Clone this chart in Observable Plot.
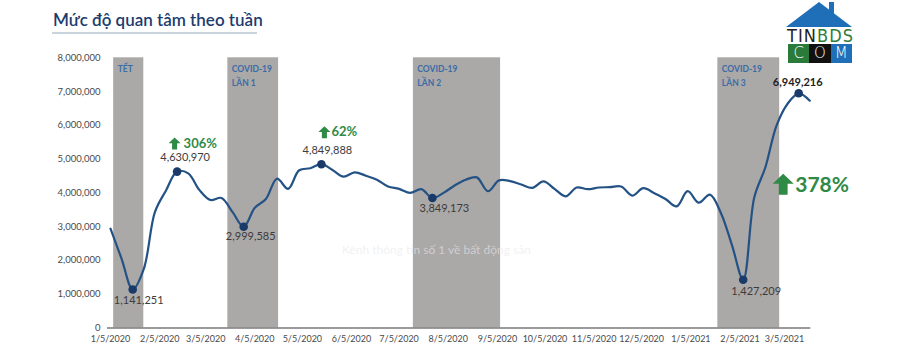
<!DOCTYPE html>
<html><head><meta charset="utf-8">
<script src="https://cdn.jsdelivr.net/npm/d3@7"></script>
<script src="https://cdn.jsdelivr.net/npm/@observablehq/plot@0.6"></script>
<style>
body{margin:0;background:#fff;}
#wrap{position:relative;width:899px;height:362px;overflow:hidden;font-family:Lato,"Open Sans",sans-serif;}
#chart{position:absolute;left:0;top:0;}
#title{position:absolute;left:53px;top:9px;font-size:17px;line-height:22px;color:#1d3c6e;font-weight:600;white-space:nowrap;}
#uline{position:absolute;left:52px;top:32px;width:205px;height:2px;background:#c9d4df;}
#logo{position:absolute;left:786px;top:0;width:67px;height:64px;}
#logo .roof{position:absolute;left:0;top:2px;width:0;height:0;border-left:33px solid transparent;border-right:33px solid transparent;border-bottom:25px solid #1f6fb8;}
#logo .chim{position:absolute;left:43px;top:2px;width:5px;height:12px;background:#1f6fb8;}
#logo .tin{position:absolute;left:1px;top:26px;width:66px;font-family:"Liberation Sans Narrow","DejaVu Sans Condensed",sans-serif;font-size:18px;line-height:19px;display:flex;justify-content:space-between;}
#logo .com{position:absolute;left:2px;top:44px;width:64px;height:19px;display:flex;}
#logo .com span{flex:1;color:#fff;text-align:center;font-family:"DejaVu Sans",sans-serif;font-weight:300;font-size:15px;line-height:19px;}
.wm{position:absolute;color:rgba(232,232,232,0.6);white-space:nowrap;pointer-events:none;}
</style></head>
<body>
<div id="wrap">
  <div id="chart"></div>
  <div class="wm" style="left:342px;top:242px;font-size:12px;">Kênh thông tin số 1 về bất động sản</div>
  <div id="title">Mức độ quan tâm theo tuần</div>
  <div id="uline"></div>
  <div id="logo">
    <div class="roof"></div><div class="chim"></div>
    <div class="com"><span style="background:#2a7a3a">C</span><span style="background:#111">O</span><span style="background:#1f6fb8">M</span></div>
    <div class="tin"><span style="color:#222">T</span><span style="color:#222">I</span><span style="color:#222">N</span><span style="color:#2f7d3a">B</span><span style="color:#2f7d3a">D</span><span style="color:#2f7d3a">S</span></div>
  </div>
</div>
<script>
// ---- data ----
const weeks = [
"2020-01-05","2020-01-12","2020-01-19","2020-01-26","2020-02-02","2020-02-09","2020-02-16","2020-02-23",
"2020-03-01","2020-03-08","2020-03-15","2020-03-22","2020-03-29","2020-04-05","2020-04-12","2020-04-19",
"2020-04-26","2020-05-03","2020-05-10","2020-05-17","2020-05-24","2020-05-31","2020-06-07","2020-06-14",
"2020-06-21","2020-06-28","2020-07-05","2020-07-12","2020-07-19","2020-07-26","2020-08-02","2020-08-09",
"2020-08-16","2020-08-23","2020-08-30","2020-09-06","2020-09-13","2020-09-20","2020-09-27","2020-10-04",
"2020-10-11","2020-10-18","2020-10-25","2020-11-01","2020-11-08","2020-11-15","2020-11-22","2020-11-29",
"2020-12-06","2020-12-13","2020-12-20","2020-12-27","2021-01-03","2021-01-10","2021-01-17","2021-01-24",
"2021-01-31","2021-02-07","2021-02-14","2021-02-21","2021-02-28","2021-03-07","2021-03-14","2021-03-21"];
const interest = [
2940000,2050000,1141251,1750000,3430000,4070000,4630970,4580000,
4090000,3790000,3850000,3430000,2999585,3560000,3820000,4420000,
4120000,4670000,4730000,4849888,4680000,4480000,4610000,4510000,
4390000,4190000,4120000,4000000,4110000,3849173,4000000,4220000,
4390000,4460000,4050000,4370000,4350000,4250000,4150000,4340000,
4120000,3900000,4160000,4110000,4160000,4170000,4190000,3920000,
4140000,3990000,3820000,3600000,4050000,3710000,3950000,3400000,
2440000,1427209,3870000,4760000,5990000,6640000,6949216,6730000];
const bandStarts = ["2020-01-07","2020-03-19","2020-07-14","2021-01-22"];
const bandEnds   = ["2020-01-26","2020-04-20","2020-09-07","2021-03-02"];
const bandLabels = ["TẾT","COVID-19\nLẦN 1","COVID-19\nLẦN 2","COVID-19\nLẦN 3"];
const xTickDates = ["2020-01-05","2020-02-05","2020-03-05","2020-04-05","2020-05-05","2020-06-05","2020-07-05",
"2020-08-05","2020-09-05","2020-10-05","2020-11-05","2020-12-05","2021-01-05","2021-02-05","2021-03-05"];
const yTicks = [0,1000000,2000000,3000000,4000000,5000000,6000000,7000000,8000000];
const highlightWeeks = ["2020-01-19","2020-02-16","2020-03-29","2020-05-17","2020-07-26","2021-02-07","2021-03-14"];
const growthWeeks = ["2020-02-16","2020-05-17","2021-03-14"];
const growthLabels = ["306%","62%","378%"];

// ---- build ----
const P = d3.utcParse("%Y-%m-%d");
const series = weeks.map((w,i)=>({date:P(w), value:interest[i]}));
const byWeek = new Map(weeks.map((w,i)=>[w, interest[i]]));
const hl = highlightWeeks.map(w=>({date:P(w), value:byWeek.get(w), label:d3.format(",")(byWeek.get(w))}));
const bands = bandStarts.map((s,i)=>({x1:P(s), x2:P(bandEnds[i]), label:bandLabels[i]}));
const growth = growthWeeks.map((w,i)=>({date:P(w), value:byWeek.get(w), label:growthLabels[i]}));
const fmtDate = d => `${d.getUTCMonth()+1}/${d.getUTCDate()}/${d.getUTCFullYear()}`;

// fat up-arrow symbol
const upArrow = {draw(ctx, size){
  const r = Math.sqrt(size/Math.PI);
  const sw = r*0.42;
  ctx.moveTo(0,-r); ctx.lineTo(r,-r*0.05); ctx.lineTo(sw,-r*0.05); ctx.lineTo(sw,r);
  ctx.lineTo(-sw,r); ctx.lineTo(-sw,-r*0.05); ctx.lineTo(-r,-r*0.05); ctx.closePath();
}};

// label offsets (style only)
const valOff = [[6,11],[8,-14],[7,10],[6,-14],[12,10],[13,12],[-1,-11]];
// [arrow dx, arrow dy, arrow r, text dx, text dy, font size]
const grOff = [[-2.5,-28,6,6.5,-28,13],[3,-32,6,10,-32,13],[-15.5,91,10.5,-3.5,92,21]];

const marks = [
  Plot.rect(bands, {x1:"x1", x2:"x2", y1:0, y2:8000000, fill:"#aba8a8"}),
  Plot.text(bands, {x:"x1", y:8000000, text:"label", textAnchor:"start", lineAnchor:"top", dx:4, dy:5,
    fontSize:8.5, fontWeight:"bold", fill:"#3a6ca6", lineHeight:1.6}),
  Plot.ruleY([0], {stroke:"#7a7a7a", strokeWidth:1.5, insetLeft:-3, insetRight:-1}),
  Plot.axisY({ticks:yTicks, tickFormat:d3.format(","), tickSize:0, tickPadding:10, fontSize:9.5, fill:"#4a4a4a", label:null}),
  Plot.axisX({ticks:xTickDates.map(P), tickFormat:fmtDate, tickSize:0, tickPadding:8, fontSize:9, fill:"#4a4a4a", label:null}),
  Plot.line(series, {x:"date", y:"value", stroke:"#245285", strokeWidth:2.2, curve:"catmull-rom"}),
  Plot.dot(hl, {x:"date", y:"value", r:4.3, fill:"#1a3b69"}),
  ...hl.map((d,i)=>Plot.text([d], {x:"date", y:"value", text:"label", dx:valOff[i][0], dy:valOff[i][1],
    fontSize:11, fontWeight:i===6?"bold":"normal", fill:i===6?"#222":"#3c3c3c"})),
  ...growth.map((d,i)=>Plot.dot([d], {x:"date", y:"value", symbol:upArrow, r:grOff[i][2],
    dx:grOff[i][0], dy:grOff[i][1], fill:"#2f8a45", stroke:"none"})),
  ...growth.map((d,i)=>Plot.text([d], {x:"date", y:"value", text:"label", dx:grOff[i][3], dy:grOff[i][4],
    textAnchor:"start", fontSize:grOff[i][5], fontWeight:"bold", fill:"#2f8a45"}))
];

const chart = Plot.plot({
  width:899, height:362,
  marginLeft:110, marginRight:89.7, marginTop:57.3, marginBottom:34.5,
  x:{type:"utc", domain:[P("2020-01-05"), P("2021-03-21")]},
  y:{domain:[0,8000000]},
  style:{background:"transparent", fontFamily:"Lato, 'Open Sans', sans-serif"},
  marks
});
document.getElementById("chart").append(chart);
</script>
</body></html>
